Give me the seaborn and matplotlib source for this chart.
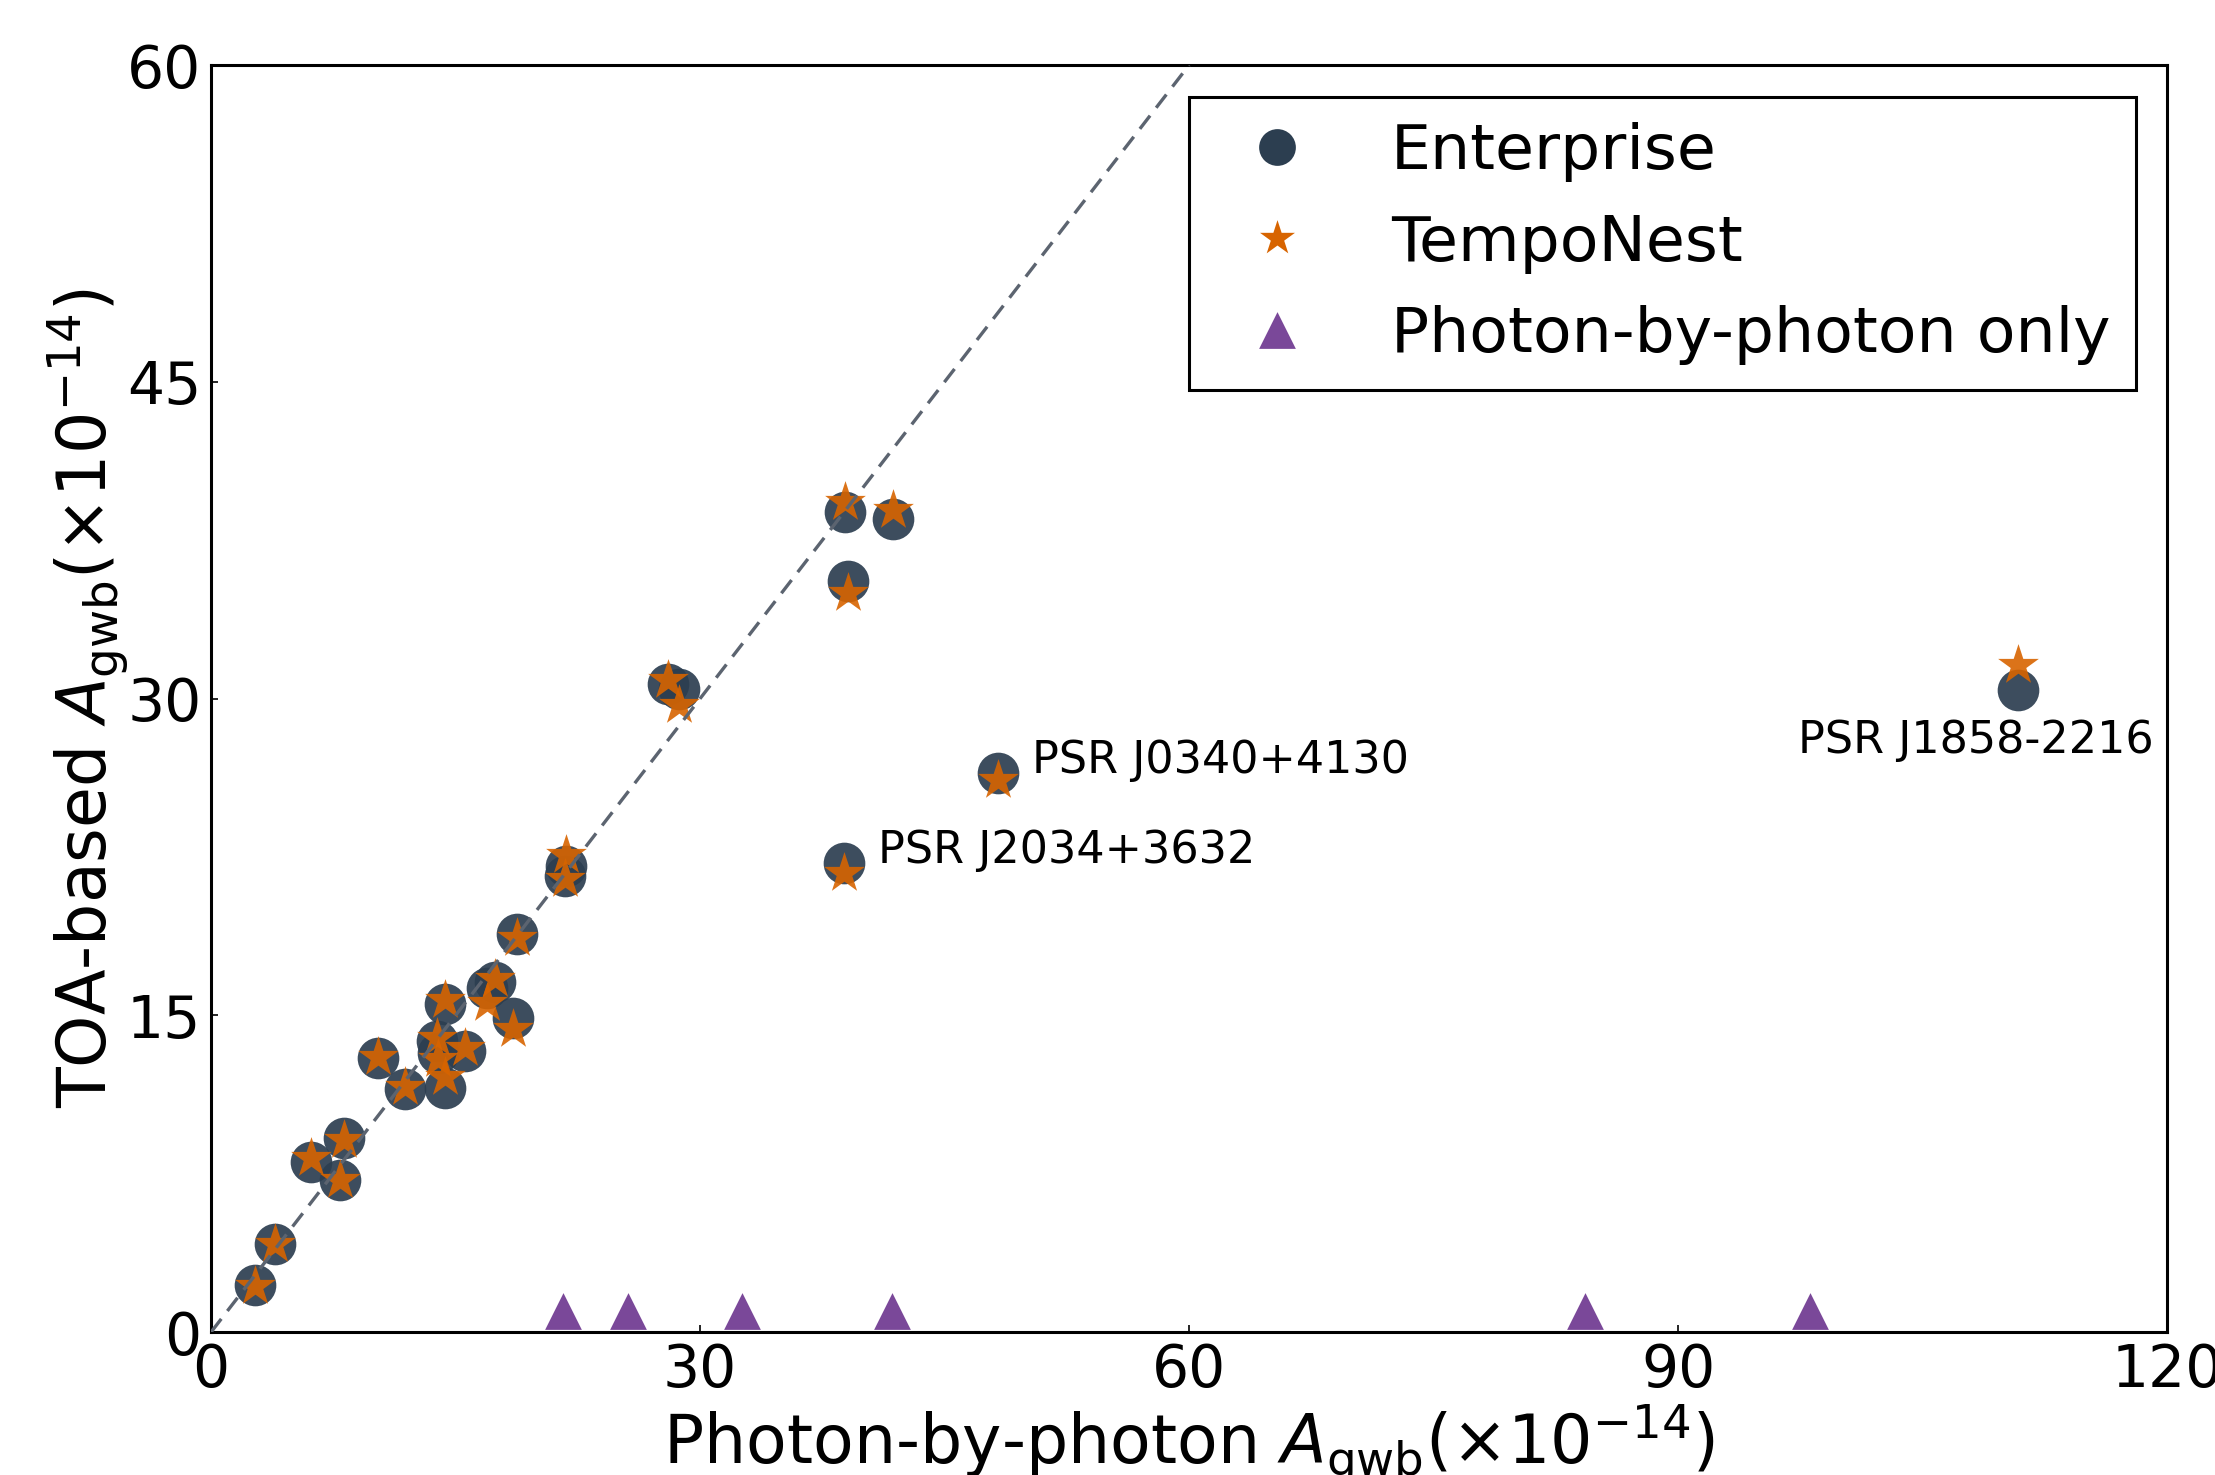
import numpy as np
import pandas as pd
import matplotlib
matplotlib.use("Agg")
import matplotlib.pyplot as plt
import seaborn as sns

# ---- data (units of 1e-14) ----
photon_x = [2.70, 3.93, 6.13, 7.91, 8.16, 10.27, 11.90, 14.36, 13.85, 13.95,
            15.58, 14.36, 17.42, 16.95, 18.55, 18.79, 21.72, 21.76, 28.06, 28.73,
            38.90, 41.86, 39.10, 48.25, 38.82, 110.84]
enterprise_y = [2.24, 4.16, 8.07, 7.22, 9.18, 12.99, 11.49, 15.53, 13.78, 13.20,
                13.32, 11.58, 16.58, 16.30, 14.87, 18.86, 21.60, 22.09, 30.71, 30.43,
                38.84, 38.48, 35.56, 26.48, 22.19, 30.40]
temponest_y = [2.20, 4.16, 8.24, 7.22, 9.10, 13.04, 11.62, 15.73, 13.94, 12.93,
               13.45, 12.06, 16.71, 15.60, 14.35, 18.67, 21.44, 22.58, 30.87, 29.69,
               39.31, 38.92, 34.98, 26.14, 21.72, 31.58]
photon_only_x = [21.6, 25.6, 32.6, 41.8, 84.3, 98.1]
photon_only_y = [1.0, 1.0, 1.0, 1.0, 1.0, 1.0]

labelled_names = ["PSR J0340+4130", "PSR J2034+3632", "PSR J1858-2216"]
labelled_idx = [23, 24, 25]

x_ticks = [0, 30, 60, 90, 120]
y_ticks = [0, 15, 30, 45, 60]

df = pd.DataFrame({"x": photon_x, "ent": enterprise_y, "tn": temponest_y})
df_po = pd.DataFrame({"x": photon_only_x, "y": photon_only_y})

sns.set_style("white")
plt.rcParams["font.family"] = ["DejaVu Sans"]
plt.rcParams["text.color"] = "black"
plt.rcParams["axes.labelcolor"] = "black"
plt.rcParams["xtick.color"] = "black"
plt.rcParams["ytick.color"] = "black"

fig = plt.figure(figsize=(22.15, 14.75), dpi=100)
ax = fig.add_axes([0.0953, 0.0969, 0.8831, 0.859])

c_ent = "#2c3e50"
c_tn = "#d76400"
c_po = "#7a4899"

sns.scatterplot(data=df, x="x", y="ent", marker="o", s=900, color=c_ent,
                alpha=0.92, linewidth=0, ax=ax, label="Enterprise", zorder=2)
sns.scatterplot(data=df, x="x", y="tn", marker="*", s=950, color=c_tn,
                alpha=0.9, linewidth=0, ax=ax, label="TempoNest", zorder=3)
sns.scatterplot(data=df_po, x="x", y="y", marker="^", s=700, color=c_po,
                alpha=1.0, linewidth=0, ax=ax, label="Photon-by-photon only", zorder=3)

ax.axline((0, 0), slope=1, color="#5c6470", lw=2.4, dashes=(5, 3), zorder=4)

# annotations
offsets = [(2.1, 0.0, "left"), (2.1, 0.0, "left"), (-13.5, -3.0, "left")]
for name, i, (dx, dy, ha) in zip(labelled_names, labelled_idx, offsets):
    ax.text(photon_x[i] + dx, enterprise_y[i] + dy, name, fontsize=32,
            ha=ha, va="baseline", color="black", zorder=5)

ax.set_xlim(0, 120)
ax.set_ylim(0, 60)
ax.set_xticks(x_ticks)
ax.set_yticks(y_ticks)
ax.tick_params(axis="both", direction="in", length=5, width=1.2,
               labelsize=42, pad=7, color="black", labelcolor="black",
               bottom=True, left=True)

for sp in ax.spines.values():
    sp.set_color("black")
    sp.set_linewidth(2.2)

ax.set_xlabel(r"Photon-by-photon $A_{\rm gwb}$($\times10^{-14}$)", fontsize=48,
              labelpad=2, color="black")
ax.set_ylabel(r"TOA-based $A_{\rm gwb}$($\times10^{-14}$)", fontsize=48,
              labelpad=-3, color="black")

leg = ax.legend(loc="upper right", fontsize=45.5, frameon=True, fancybox=False,
                edgecolor="black", framealpha=1.0, borderaxespad=0.5,
                scatteryoffsets=[0.5])
leg.get_frame().set_linewidth(2.2)
for h in leg.legend_handles:
    h.set_sizes([700])
    h.set_alpha(1.0)
for t in leg.get_texts():
    t.set_color("black")

fig.savefig("out.png", dpi=100, facecolor="white")
